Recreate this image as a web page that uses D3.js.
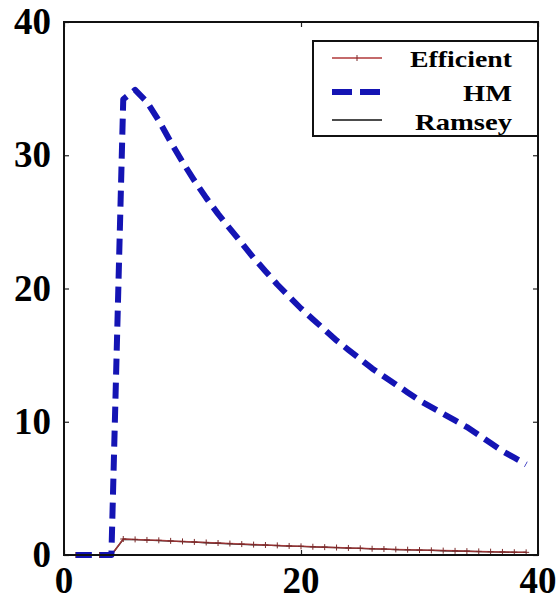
<!DOCTYPE html>
<html>
<head>
<script src="https://d3js.org/d3.v7.min.js"></script>
<style>
body { margin: 0; background: #fff; }
text { font-family: "Liberation Serif", "Times New Roman", serif; font-weight: bold; }
</style>
</head>
<body>
<div id="chart"></div>
<script>
var periods = d3.range(1, 40);
var hm = [0, 0, 0, 0, 34.2, 34.9, 34.0, 32.6, 31.0, 29.5, 28.1, 26.8, 25.6, 24.5, 23.4, 22.3, 21.3, 20.3, 19.4, 18.5,
	17.7, 16.9, 16.1, 15.4, 14.7, 14.0, 13.4, 12.8, 12.2, 11.6, 11.1, 10.6, 10.1, 9.6, 9.0, 8.4, 7.8, 7.3, 6.8];
var efficient = [0, 0, 0, 0, 1.2, 1.17, 1.13, 1.1, 1.06, 1.02, 0.98, 0.94, 0.9, 0.86, 0.82, 0.78, 0.75, 0.72, 0.68, 0.65,
	0.62, 0.59, 0.56, 0.53, 0.5, 0.47, 0.45, 0.42, 0.4, 0.37, 0.35, 0.33, 0.31, 0.29, 0.27, 0.25, 0.23, 0.21, 0.2];
var ramsey = [0, 0, 0, 0, 1.18, 1.15, 1.12, 1.08, 1.04, 1.0, 0.96, 0.92, 0.88, 0.84, 0.8, 0.77, 0.74, 0.7, 0.67, 0.64,
	0.61, 0.58, 0.55, 0.52, 0.49, 0.46, 0.44, 0.41, 0.39, 0.36, 0.34, 0.32, 0.3, 0.28, 0.26, 0.24, 0.22, 0.2, 0.19];
var xTicks = [0, 20, 40];
var yTicks = [0, 10, 20, 30, 40];
var legendNames = ["Efficient", "HM", "Ramsey"];
var legendWidths = [102, 49, 97];

var w = 557, h = 601;
var m = {top: 22, right: 19, bottom: 46, left: 64};
var svg = d3.select("#chart").append("svg").attr("width", w).attr("height", h);

var x = d3.scaleLinear().domain([0, 40]).range([m.left, w - m.right]);
var y = d3.scaleLinear().domain([0, 40]).range([h - m.bottom, m.top]);

// inward ticks on all four sides
svg.append("g").attr("transform", "translate(0," + y(0) + ")")
	.call(d3.axisBottom(x).tickValues(xTicks).tickSize(-5).tickFormat(""))
	.call(function(g) { g.select(".domain").remove(); });
svg.append("g").attr("transform", "translate(0," + y(40) + ")")
	.call(d3.axisTop(x).tickValues(xTicks).tickSize(-5).tickFormat(""))
	.call(function(g) { g.select(".domain").remove(); });
svg.append("g").attr("transform", "translate(" + x(0) + ",0)")
	.call(d3.axisLeft(y).tickValues(yTicks).tickSize(-5).tickFormat(""))
	.call(function(g) { g.select(".domain").remove(); });
svg.append("g").attr("transform", "translate(" + x(40) + ",0)")
	.call(d3.axisRight(y).tickValues(yTicks).tickSize(-5).tickFormat(""))
	.call(function(g) { g.select(".domain").remove(); });
svg.selectAll(".tick line").attr("stroke", "#222").attr("stroke-width", 1.2);

// tick labels
svg.selectAll(".xlab").data(xTicks).enter().append("text")
	.attr("x", function(d) { return x(d); })
	.attr("y", 593)
	.attr("text-anchor", "middle")
	.attr("font-size", 37)
	.text(function(d) { return d; });
svg.selectAll(".ylab").data(yTicks).enter().append("text")
	.attr("x", 51)
	.attr("y", function(d) { return y(d) + 12; })
	.attr("text-anchor", "end")
	.attr("font-size", 37)
	.text(function(d) { return d; });

var line = d3.line().x(function(d, i) { return x(periods[i]); }).y(function(d) { return y(d); });

svg.append("path").datum(ramsey).attr("d", line)
	.attr("fill", "none").attr("stroke", "#111").attr("stroke-width", 1.3);
svg.append("path").datum(efficient).attr("d", line)
	.attr("fill", "none").attr("stroke", "#b0383a").attr("stroke-width", 1.5).attr("stroke-opacity", 0.85);
svg.selectAll(".plus").data(efficient).enter().append("path")
	.attr("d", function(d, i) {
		var px = x(periods[i]), py = y(d);
		return "M" + (px - 3) + "," + py + "h6M" + px + "," + (py - 3) + "v6";
	})
	.attr("stroke", "#7a2a2a").attr("stroke-width", 1);
svg.append("path").datum(hm).attr("d", line)
	.attr("fill", "none").attr("stroke", "#1414b4").attr("stroke-width", 6)
	.attr("stroke-dasharray", "16,8").attr("stroke-linejoin", "round");

// frame
svg.append("rect").attr("x", x(0)).attr("y", y(40))
	.attr("width", x(40) - x(0)).attr("height", y(0) - y(40))
	.attr("fill", "none").attr("stroke", "#111").attr("stroke-width", 2);

// legend
var lg = svg.append("g");
lg.append("rect").attr("x", 313).attr("y", 41).attr("width", x(40) - 313).attr("height", 95)
	.attr("fill", "#fff").attr("stroke", "#111").attr("stroke-width", 2);
var rows = [58, 92, 120];
var baselines = [67, 101, 130];
lg.selectAll(".lt").data(legendNames).enter().append("g")
	.attr("class", "lt")
	.each(function(d, i) {
		var t = d3.select(this).append("text")
			.attr("text-anchor", "end").attr("font-size", 23).text(d);
		var sx = legendWidths[i] / t.node().getComputedTextLength();
		d3.select(this).attr("transform", "translate(512," + baselines[i] + ") scale(" + sx + ",1)");
	});
lg.append("line").attr("x1", 332).attr("x2", 382).attr("y1", rows[0]).attr("y2", rows[0])
	.attr("stroke", "#b0383a").attr("stroke-width", 1.5);
lg.append("path").attr("d", "M357," + (rows[0] - 3) + "v6").attr("stroke", "#7a2a2a").attr("stroke-width", 1);
lg.append("line").attr("x1", 332).attr("x2", 382).attr("y1", rows[1]).attr("y2", rows[1])
	.attr("stroke", "#1414b4").attr("stroke-width", 6).attr("stroke-dasharray", "20,8");
lg.append("line").attr("x1", 332).attr("x2", 382).attr("y1", rows[2]).attr("y2", rows[2])
	.attr("stroke", "#111").attr("stroke-width", 1.5);
</script>
</body>
</html>
